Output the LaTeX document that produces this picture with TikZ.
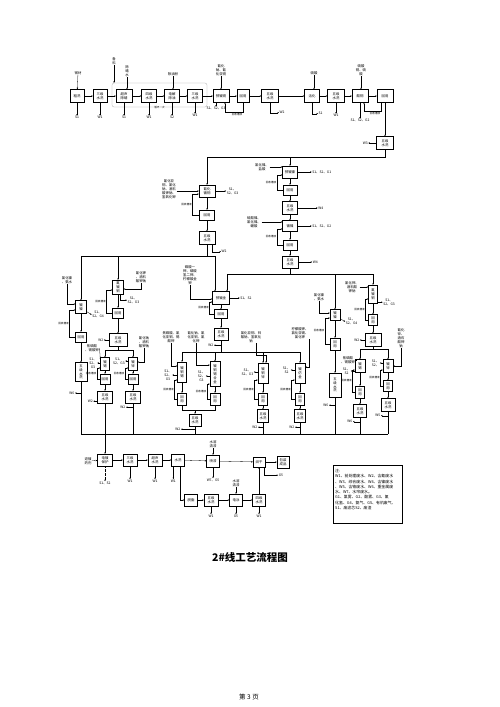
\documentclass[tikz,border=0pt]{standalone}
\usepackage{fontspec}
\setmainfont{Noto Sans CJK SC}
\usetikzlibrary{arrows.meta,calc}
\newcommand\fsa{\fontsize{3.4}{3.9}\selectfont}
\newcommand\fsb{\fontsize{2.6}{3}\selectfont}
\tikzset{
 bx/.style={draw,line width=0.35pt,inner sep=0.2pt,align=center,font=\fsa},
 lb/.style={inner sep=0.5pt,align=center,font=\fsa},
 sm/.style={inner sep=0.4pt,align=center,font=\fsb},
 ar/.style={-{Stealth[length=1.6pt,width=1.4pt]},line width=0.3pt},
 ln/.style={line width=0.3pt},
}
\newcommand\bxx[5]{\node[bx,minimum width=#3pt,minimum height=#4pt] (#1) at (#2) {#5};}
\newcommand\dnn[3]{\draw[ar] (#1.south) -- ++(0,#2) node[lb,below] {#3};}
\newcommand\lpp[4]{\draw[ar] (#1.west) -- ++(-#3,0) |- ($(#2.west)+(0,#4)$) node[pos=0.25,sm,left] {回收槽液};}
\begin{document}
\begin{tikzpicture}[x=1pt,y=-1pt]
\useasboundingbox (0,0) rectangle (500,707);
\fill[white] (0,0) rectangle (500,707);
% ---------- row 1
\node[draw=gray!70,rounded corners=2pt,line width=0.3pt,minimum width=95pt,minimum height=24pt,inner sep=0] (cyc) at (159.5,95) {};
\node[sm,fill=white] (cycl) at (cyc.south) {循环一次};
\bxx{r1}{77,96}{14}{13}{粗洗}
\bxx{r2}{100,96}{14}{13}{三级\\水洗}
\bxx{r3}{124,96}{16}{13}{超声\\除蜡}
\bxx{r4}{149,96}{15}{13}{四级\\水洗}
\bxx{r5}{172,96}{15}{13}{电解\\除油}
\bxx{r6}{195,96}{15}{13}{三级\\水洗}
\bxx{r7}{221,96}{16}{13}{预镀铜}
\bxx{r8}{243,96}{12}{13}{回用}
\bxx{r9}{270,96}{17}{13}{五级\\水洗}
\bxx{r10}{312,96}{15}{13}{活化}
\bxx{r11}{336,96}{17}{13}{五级\\水洗}
\bxx{r12}{360,96}{16}{13}{酸铜}
\bxx{r13}{385,96}{16}{13}{回用}
\bxx{r14}{385,143}{17}{13}{五级\\水洗}
\node[lb] (i1) at (78,73) {钢材};
\node[lb] (i0) at (114,61) {备\\料};
\node[lb] (i3) at (127,71) {除\\蜡\\水};
\node[lb] (i5) at (173,74) {除油粉};
\node[lb] (i7) at (221,70) {氰化\\钠、氰\\化亚铜};
\node[lb] (i10) at (314,73) {硫酸};
\node[lb] (i12) at (361,70) {硫酸\\铜、硫\\酸};
\draw[ar] (i1) -- (r1);
\draw[ar] (i0.south) -- (i0.south |- cyc.north);
\draw[ar] (i3.south) -- (i3.south |- r3.north);
\draw[ar] (i5) -- (i5 |- r5.north);
\draw[ar] (i7) -- (r7);
\draw[ar] (i10.south) -- (i10.south |- r10.north);
\draw[ar] (i12.south) -- (i12.south |- r12.north);
\foreach \a/\b in {r1/r2,r2/r3,r3/r4,r4/r5,r5/r6,r6/r7,r7/r8,r8/r9,r9/r10,r10/r11,r11/r12,r12/r13,r13/r14}
  \draw[ar] (\a) -- (\b);
\dnn{r1}{13}{S1}
\dnn{r2}{13}{W1}
\dnn{r3}{13}{S1}
\dnn{r4}{13}{W1}
\dnn{r5}{13}{S2}
\dnn{r6}{11}{W1}
\draw[ar] ($(r7.south)+(-5,0)$) -- ++(0,4) node[lb,below] {S1、S2、G3};
\draw[ar] (r8.south) -- ++(0,9) -| ($(r7.south)+(4,0)$);
\node[sm] (rl1) at (237,114.5) {回收槽液};
\draw[ar] (r9.south) |- ++(9,10) node[lb,right] {W2};
\draw[ar] (r10.south) |- ++(6,11) node[lb,right] {S1};
\dnn{r11}{11}{W1}
\dnn{r12}{16}{S1、S2、G2}
\draw[ar] ($(r13.south)+(-4,0)$) -- ++(0,8) -| ($(r12.south)+(4,0)$);
\node[sm] (rl2) at (375,113.5) {回收槽液};
\draw[ar] (r14.west) -- ++(-8,0) node[lb,left] {W3};
% ---------- top line
\coordinate (tl) at (207,157);
\coordinate (tr) at (385,157);
\draw[ln] (r14.south) -- (tr) -- (tl);
% ---------- chain c (x 290)
\bxx{c1}{290,172}{15}{12}{预镀镍}
\bxx{c2}{290,190}{14}{10}{回用}
\bxx{c3}{290,208}{15}{13}{五级\\水洗}
\bxx{c4}{290,226}{15}{11}{镀镍}
\bxx{c5}{290,245}{14}{10}{回用}
\bxx{c6}{290,262}{16}{12}{五级\\水洗}
\draw[ar] (c1.north |- tl) -- (c1);
\foreach \a/\b in {c1/c2,c2/c3,c3/c4,c4/c5,c5/c6} \draw[ar] (\a) -- (\b);
\node[lb] (ic1) at (262,167) {氯化镍、\\盐酸};
\draw[ar] (ic1.east) -- (ic1.east -| c1.west);
\node[lb] (ic4) at (254,222) {硫酸镍、\\氯化镍、\\硼酸};
\draw[ar] (ic4.east) -- (ic4.east -| c4.west);
\lpp{c2}{c1}{6}{3}
\lpp{c5}{c4}{6}{3}
\draw[ar] (c1.east) -- ++(14,0) node[lb,right] {S1、S2、G1};
\draw[ar] (c3.east) -- ++(20,0) node[lb,right] {W4};
\draw[ar] (c4.east) -- ++(14,0) node[lb,right] {S1、S2、G2};
\draw[ar] (c6.east) -- ++(14,0) node[lb,right] {W4};
% ---------- chain l (x 207)
\bxx{l1}{207,191}{16}{12}{氰化\\镀铜}
\bxx{l2}{207,215}{15}{10}{回用}
\bxx{l3}{207,238}{16}{13}{五级\\水洗}
\draw[ar] (tl) -- (l1);
\draw[ar] (l1) -- (l2);
\draw[ar] (l2) -- (l3);
\node[lb] (il1) at (169,189) {氰化亚\\铜、氰化\\钠、酒石\\酸钾钠、\\氢氧化钾};
\draw[ar] (il1.east |- l1.west) -- (l1.west);
\draw[ar] (l1.east) -- ++(11,0) node[lb,right] {S1、\\S2、G3};
\lpp{l2}{l1}{7}{3}
\draw[ar] ($(l3.south)+(5,0)$) |- ++(9,7) node[lb,right] {W2};
% ---------- top-left line y 256
\coordinate (ta) at (81,256);
\coordinate (tb) at (215,256);
\coordinate (tm) at (118,256);
\draw[ln] (l3.south) -- (l3.south |- ta);
\draw[ln] (ta) -- (tb);
% ---------- chain a (x 81)
\bxx{a1}{81,307}{11}{13}{镀\\镍}
\bxx{a2}{81,337}{11}{10}{回用}
\bxx{a3}{81,372}{12}{19}{五\\级\\水\\洗}
\draw[ar] (ta) -- (a1);
\draw[ar] (a1) -- (a2);
\draw[ar] (a2) -- (a3);
\node[lb] (ia1) at (67,280) {氯化镍\\、氨水};
\draw[ar] (ia1.south) |- ($(a1.west)+(0,-3)$);
\draw[ar] ($(a1.south east)+(0,-2)$) -- ++(5,3) node[lb,right] {S1、\\S2、G4};
\lpp{a2}{a1}{6}{3}
\coordinate (wa) at (81,393);
\draw[ar] (wa) -- ++(-6,0) node[lb,left] {W6};
% ---------- chain b (x 118)
\bxx{b1}{118,287}{11}{14}{氰\\镀\\铜}
\bxx{b2}{118,313}{11}{10}{回用}
\bxx{b3}{118,340}{18}{13}{五级\\水洗}
\draw[ar] (tm) -- (b1);
\draw[ar] (b1) -- (b2);
\draw[ar] (b2) -- (b3);
\node[lb] (ib1) at (141,277) {氰化钾\\、酒石\\酸钾钠};
\draw[ar] (ib1.south) |- ($(b1.east)+(0,2)$);
\draw[ar] ($(b1.south)+(2,0)$) |- ++(7,6) node[lb,right] {S1、\\S2、G3};
\lpp{b2}{b1}{6}{3}
\draw[ar] (b3.west) -- ++(-5,0) node[lb,left] {W2};
\coordinate (sb) at (118,350);
\coordinate (sbl) at (105,350);
\coordinate (sbr) at (133,350);
\draw[ln] (b3.south) -- (sb);
\draw[ln] (sbl) -- (sbr);
\bxx{b4}{105,364}{9}{13}{镀\\锡}
\bxx{b5}{133,364}{9}{13}{镀\\锌}
\bxx{b6}{105,379}{10}{10}{回用}
\bxx{b7}{133,379}{10}{10}{回用}
\bxx{b8}{105,397}{15}{12}{五级\\水洗}
\bxx{b9}{133,397}{15}{12}{五级\\水洗}
\draw[ar] (sbl) -- (b4);
\draw[ar] (sbr) -- (b5);
\draw[ar] (b4) -- (b6);
\draw[ar] (b6) -- (b8);
\draw[ar] (b5) -- (b7);
\draw[ar] (b7) -- (b9);
\node[lb] (ib4) at (92,348) {焦磷酸\\、锡酸钾};
\draw[ar] (ib4.east) -- ($(b4.north west)+(0,2)$);
\draw[ar] ($(b4.west)+(0,-1)$) -- ++(-3,0) node[lb,left] {S1、\\S2、\\G3};
\node[lb] (ib5) at (144,342) {氰化钠\\、酒石\\酸钾钠};
\draw[ar] (ib5.south) |- ($(b5.east)+(0,-2)$);
\draw[ar] ($(b5.west)+(0,-3)$) -- ++(-3,0) node[lb,left] {S1、\\S2、G3};
\lpp{b6}{b4}{3}{4}
\lpp{b7}{b5}{3}{4}
\draw[ar] ($(b8.south west)+(0,-2)$) -- ++(-4,0) node[lb,left] {W2};
\draw[ar] ($(b9.south)+(0,4)$) -- ++(-7,0) node[lb,left] {W2};
% ---------- middle m (x 221)
\bxx{m1}{221,298}{17}{13}{预镀金}
\bxx{m2}{221,314}{13}{9}{回用}
\bxx{m3}{221,334}{14}{12}{五级\\水洗}
\draw[ar] (tb) -- (tb |- m1.north);
\draw[ar] (m1) -- (m2);
\draw[ar] (m2) -- (m3);
\node[lb] (im1) at (190,275) {磷酸一\\钾、磷酸\\氢二钾、\\柠檬酸金\\钾};
\draw[ar] (im1.south) |- ($(m1.west)+(0,1)$);
\draw[ar] (m1.east) -- ++(10,0) node[lb,right] {S1、S2};
\lpp{m2}{m1}{5}{4}
\draw[ar] ($(m3.south)+(0,5)$) -- ++(-7,0) node[lb,left] {W2};
% ---------- right line y 274
\coordinate (tc) at (227,274);
\coordinate (td) at (373,274);
\coordinate (tR) at (335,274);
\draw[ln] (c6.south) -- (c6.south |- tc);
\draw[ln] (tc) -- (td);
\draw[ar] (tc) -- (tc |- m1.north);
% ---------- A-D (y 352)
\coordinate (mA) at (182,352);
\coordinate (mB) at (215,352);
\coordinate (mC) at (263,352);
\coordinate (mD) at (300,352);
\draw[ln] (m3.south) -- (m3.south |- mA);
\draw[ln] (mA) -- (mD);
\bxx{A}{182,372}{9}{20}{镀\\铜\\锡}
\bxx{B}{215,374}{10}{25}{镀\\铜\\锡\\合\\金}
\bxx{C}{263,373}{10}{20}{镀\\铜\\锌}
\bxx{D}{300,373}{10}{20}{镀\\仿\\金}
\draw[ar] (mA) -- (A);
\draw[ar] (mB) -- (B);
\draw[ar] (mC) -- (C);
\draw[ar] (mD) -- (D);
\node[lb] (iA) at (171,337) {焦磷酸、氰\\化亚铜、锡\\酸钾};
\draw[ar] (iA.south) |- ($(A.west)+(0,-6)$);
\draw[ar] ($(A.west)+(0,3)$) -- ++(-5,0) node[lb,left] {S1、\\S2、\\G3};
\node[lb] (iB) at (196,337) {氰化钠、氰\\化亚铜、氰\\化钾};
\draw[ar] (iB.south) |- ($(B.west)+(0,-9)$);
\draw[ar] ($(B.west)+(0,2)$) -- ++(-4,0) node[lb,left] {S1、\\S2、\\G3};
\node[lb] (iC) at (251,337) {氯化亚铜、锌\\酸钠、氢氧化\\钠};
\draw[ar] ($(iC.south)+(5,0)$) |- ($(C.north)+(3,-8)$) -- ($(C.north)+(3,0)$);
\draw[ar] ($(C.west)+(0,-1)$) -- ++(-4,0) node[lb,left] {S1、\\S2、G3};
\node[lb] (iD) at (300,333) {柠檬酸钾、\\氯化亚锡、\\氯化钾};
\draw[ar] ($(iD.south)+(9,0)$) |- ($(D.east)+(0,-6)$);
\draw[ar] ($(D.west)+(0,-3)$) -- ++(-4,0) node[lb,left] {S1、\\S2};
\bxx{A2}{182,399}{9}{12}{回\\用}
\bxx{B2}{215,399}{10}{12}{回\\用}
\bxx{AB}{195,420}{12}{12}{五级\\水洗}
\bxx{C2}{263,399}{9}{12}{回\\用}
\bxx{C3}{263,416}{11}{13}{五级\\水洗}
\bxx{D2}{300,399}{9}{12}{回\\用}
\bxx{D3}{300,416}{11}{13}{五级\\水洗}
\draw[ar] (A) -- (A2);
\draw[ar] (B) -- (B2);
\draw[ar] (C) -- (C2);
\draw[ar] (D) -- (D2);
\draw[ar] (C2) -- (C3);
\draw[ar] (D2) -- (D3);
\coordinate (jab) at (195,410);
\draw[ln] (A2.south) -- ++(0,5) -| (B2.south);
\draw[ar] (jab) -- (AB);
\lpp{A2}{A}{3}{8}
\lpp{B2}{B}{3}{10}
\lpp{C2}{C}{4}{7}
\lpp{D2}{D}{4}{7}
\draw[ar] ($(AB.south)+(0,3)$) -- ++(-14,0) node[lb,left] {W2};
\draw[ar] ($(C3.south)+(0,4.5)$) -- ++(-5,0) node[lb,left] {W2};
\draw[ar] ($(D3.south)+(0,4.5)$) -- ++(-5,0) node[lb,left] {W2};
% ---------- chain R (x 335)
\bxx{R1}{335,315}{10}{11}{镀\\镍}
\bxx{R2}{335,344}{10}{12}{回\\用}
\bxx{R3}{335,385}{12}{24}{五\\级\\水\\洗}
\draw[ar] (tR) -- (R1);
\draw[ar] (R1) -- (R2);
\draw[ar] (R2) -- (R3);
\node[lb] (iR) at (319,297) {氯化镍\\、氨水};
\draw[ar] (iR.south) |- ($(R1.west)+(0,-2)$);
\draw[ar] ($(R1.south east)+(0,-2)$) -- ++(5,3) node[lb,right] {S1、\\S2、G4};
\lpp{R2}{R1}{5}{3}
\draw[ar] ($(R3.south)+(0,8)$) -- ++(-6,0) node[lb,left] {W6};
% ---------- chain E (x 373)
\bxx{E}{373,294}{9}{18}{氰\\镀\\铜}
\bxx{E2}{373,320}{9}{11}{回\\用}
\bxx{E3}{373,340}{16}{13}{五级\\水洗}
\draw[ar] (td) -- (E);
\draw[ar] (E) -- (E2);
\draw[ar] (E2) -- (E3);
\node[lb] (iE) at (352,287) {氰化钾、\\酒石酸\\钾钠};
\draw[ar] (iE.east) -- (iE.east -| E.west);
\draw[ar] ($(E.south east)+(0,-1)$) -- ++(5,0) node[lb,right] {S1、\\S2、G3};
\lpp{E2}{E}{3}{5}
\draw[ar] (E3.west) -- ++(-5,0) node[lb,left] {W2};
\coordinate (se) at (373,349);
\coordinate (sel) at (360,349);
\coordinate (ser) at (388,349);
\draw[ln] (E3.south) -- (se);
\draw[ln] (sel) -- (ser);
\bxx{F}{360,366}{10}{13}{镀\\锡}
\bxx{G}{388,366}{10}{13}{镀\\锌}
\bxx{F2}{360,392}{9}{12}{回\\用}
\bxx{F3}{360,411}{13}{13}{五级\\水洗}
\bxx{G2}{388,386}{9}{11}{回\\用}
\bxx{G3}{388,405}{14}{13}{五级\\水洗}
\draw[ar] (sel) -- (F);
\draw[ar] (ser) -- (G);
\draw[ar] (F) -- (F2);
\draw[ar] (F2) -- (F3);
\draw[ar] (G) -- (G2);
\draw[ar] (G2) -- (G3);
\node[lb] (iF) at (348,360) {焦磷酸\\、锡酸钾};
\draw[ar] (iF.east) -- (iF.east -| F.west);
\draw[ar] ($(F.west)+(0,5)$) -- ++(-4,0) node[lb,left] {S1、\\S2};
\node[lb] (iG) at (401,338) {氰化\\锌、\\酒石\\酸钾\\钠};
\draw[ar] (iG.south) |- (G.east);
\draw[ar] ($(G.west)+(0,-3)$) -- ++(-3,0) node[lb,left] {S1、\\S2、};
\lpp{F2}{F}{3}{4}
\lpp{G2}{G}{3}{4}
\draw[ar] ($(F3.south)+(0,4)$) -- ++(-7,0) node[lb,left] {W6};
\draw[ar] ($(G3.south)+(0,4)$) -- ++(-7,0) node[lb,left] {W5};
% ---------- bottom collecting line y 434
\coordinate (bl) at (81,434);
\coordinate (br) at (388,434);
\draw[ln] (bl) -- (br);
\draw[ln] (a3.south) -- (bl);
\foreach \n in {b9,AB,C3,D3,R3,F3,G3} \draw[ln] (\n.south) -- (\n.south |- bl);
% ---------- bottom process row
\bxx{p1}{105,460}{15}{12}{电镀\\保护}
\bxx{p2}{130,460}{14}{12}{三级\\水洗}
\bxx{p3}{155,460}{14}{12}{超声\\水洗}
\bxx{p4}{178,460}{13}{12}{水洗}
\bxx{p5}{213,461}{13}{12}{喷漆}
\bxx{p6}{259,462}{12}{10}{烘干}
\bxx{p7}{283,462}{12}{12}{包装\\成品}
\draw[ar] (b8) -- (b8.south |- p1.north);
\node[lb] (ip) at (88,461) {退镀\\药剂};
\draw[ar] (ip) -- (p1);
\foreach \a/\b in {p1/p2,p2/p3,p3/p4,p4/p5,p5/p6,p6/p7} \draw[ar] (\a) -- (\b);
\draw[ar,densely dotted] (p1.south) -- ++(0,15) node[lb,below] {S1、S2};
\dnn{p2}{13}{W1}
\dnn{p3}{13}{W1}
\draw[ar] ($(p4.south west)+(2,0)$) -- ++(0,13) node[lb,below] {W1};
\node[lb] (ip5) at (213,444) {水溶\\清漆};
\draw[ar] (ip5) -- (p5);
\dnn{p5}{11}{W7、G5}
\draw[ar] ($(p6.south east)+(-1,0)$) |- ++(14,8) node[lb,right] {G5};
\bxx{q1}{191,500}{13}{12}{脱脂}
\bxx{q2}{211,500}{14}{12}{五级\\水洗}
\bxx{q3}{236,500}{13}{12}{电泳}
\bxx{q4}{259,500}{13}{12}{四级\\水洗}
\draw[ar] ($(p4.south)+(2,0)$) |- (q1.west);
\foreach \a/\b in {q1/q2,q2/q3,q3/q4} \draw[ar] (\a) -- (\b);
\draw[ar] (q4) -- (p6);
\node[lb] (iq3) at (236,483) {水溶\\清漆};
\draw[ar] (iq3) -- (q3);
\dnn{q2}{8}{W1}
\dnn{q3}{8}{G5}
\dnn{q4}{8}{W1}
% ---------- legend
\node[draw,line width=0.35pt,minimum width=69pt,minimum height=58pt,anchor=north west,inner sep=0] (lg) at (333,465) {};
\node[anchor=north west,align=left,inner sep=0,font=\fontsize{3.9}{5.3}\selectfont] (lgt) at (335,469) {注:\\W1、前处理废水、W2、含氰废水\\、W3、综合废水、W4、含镍废水\\、W5、含铬废水、W6、重金属废\\水、W7、水帘废水。\\G1、氯雾、G2、酸雾、G3、氰\\化氢、G4、氨气、G5、有机废气、\\S1、废滤芯S2、废渣};
% ---------- title and page
\node[font=\fontsize{10.5}{12}\selectfont\bfseries] (title) at (250,557) {2\#线工艺流程图};
\node[font=\fontsize{6.5}{7}\selectfont] (page) at (249,697) {第 3 页};
\end{tikzpicture}
\end{document}
